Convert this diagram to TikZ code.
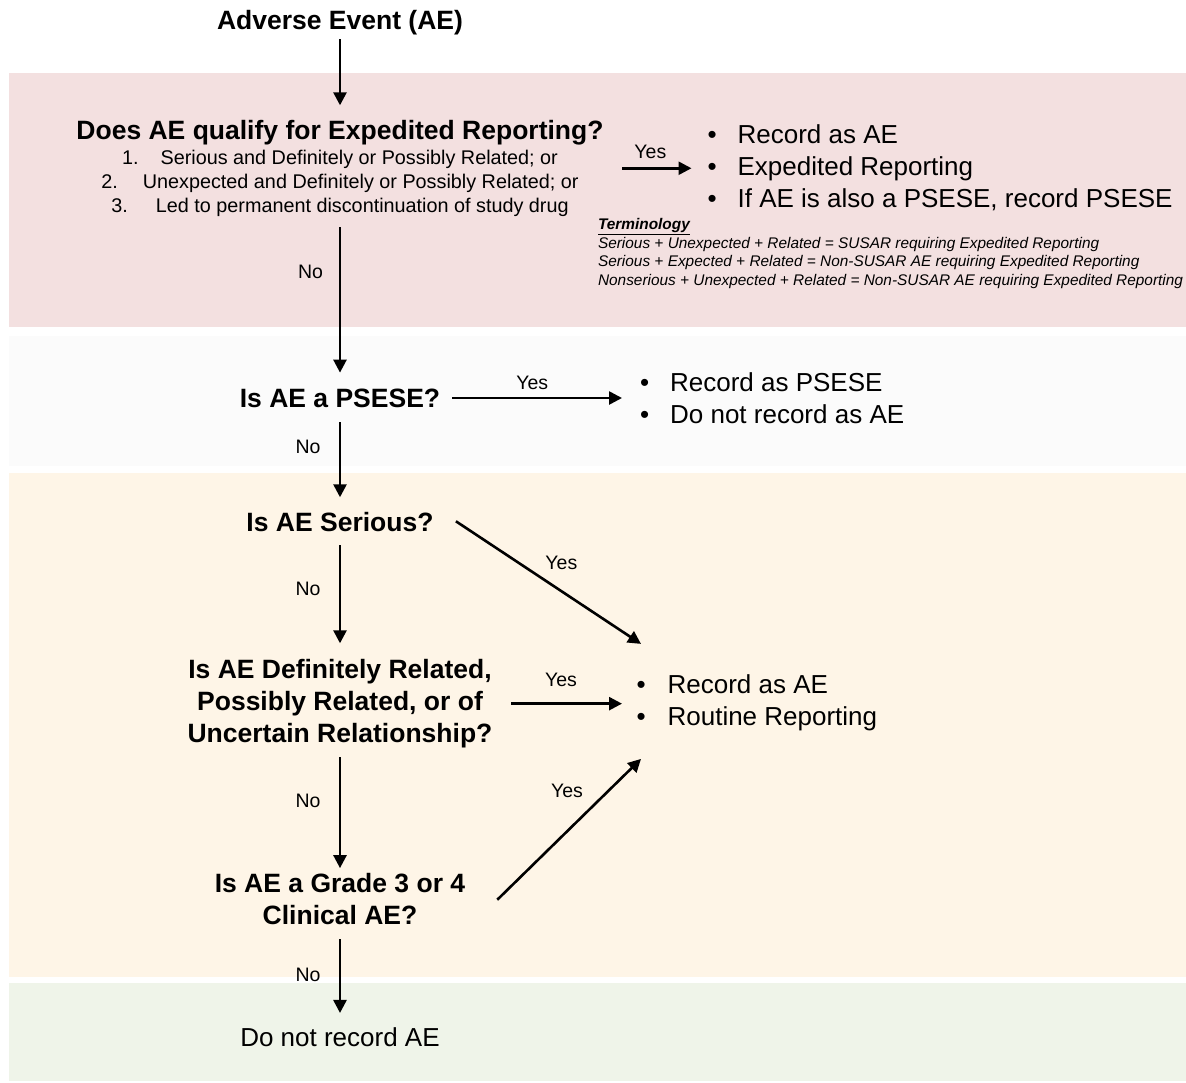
\documentclass[tikz,border=0pt]{standalone}
\usepackage{fontspec}
\setmainfont{Liberation Sans}
\usepackage{tikz}
\usetikzlibrary{arrows.meta}

\begin{document}
\begin{tikzpicture}[x=1pt,y=-1pt,line cap=rect,
		question/.style={inner sep=0, outer sep=0, align=center, font=\fontsize{26.5pt}{32pt}\selectfont\bfseries},
		bullets/.style={inner sep=0, outer sep=0, anchor=west, font=\fontsize{26pt}{32pt}\selectfont},
		answer/.style={inner sep=0, outer sep=0, font=\fontsize{19.5pt}{22pt}\selectfont},
		flow/.style={line width=2.6pt, -{Triangle[length=13pt,width=13pt]}, shorten <=15pt, shorten >=15pt}]
					\definecolor{custcol_f3_e0_e0}{RGB}{243, 224, 224}
					\definecolor{custcol_fb_fb_fb}{RGB}{251, 251, 251}
					\definecolor{custcol_fe_f5_e7}{RGB}{254, 245, 231}
					\definecolor{custcol_ef_f4_e9}{RGB}{239, 244, 233}
					\useasboundingbox (0,0) rectangle (1186,1082);
					% bands
					\fill [custcol_f3_e0_e0] (9,73) rectangle (1186,327);
					\fill [custcol_fb_fb_fb] (9,336) rectangle (1186,466);
					\fill [custcol_fe_f5_e7] (9,473) rectangle (1186,977);
					\fill [custcol_ef_f4_e9] (9,983) rectangle (1186,1081);
					% questions
					\node[question] (title) at (340,22.65) {Adverse Event (AE)};
					\node[question, font=\fontsize{19.8pt}{24pt}\selectfont] (qexp) at (340,168.25) {{\fontsize{26.5pt}{32pt}\selectfont\bfseries Does AE qualify for Expedited Reporting?}\\[0.6pt]
						1.\hspace{22pt}Serious and Definitely or Possibly Related; or\\
						2.\hspace{25pt}Unexpected and Definitely or Possibly Related; or\\
						3.\hspace{28pt}Led to permanent discontinuation of study drug};
					\node[question] (qpsese) at (340,398) {Is AE a PSESE?};
					\node[question] (qserious) at (340,522) {Is AE Serious?};
					\node[question] (qrelated) at (340,703.65) {Is AE Definitely Related,\\Possibly Related, or of\\Uncertain Relationship?};
					\node[question] (qgrade) at (340,898.85) {Is AE a Grade 3 or 4\\Clinical AE?};
					\node[inner sep=0, outer sep=0, font=\fontsize{26pt}{32pt}\selectfont] (norecord) at (340,1037) {Do not record AE};
					% outcomes
					\node[bullets] (expbul) at (707.5,168.9) {\begin{tabular}{@{}l@{\hspace{21pt}}l@{}}\textbullet & Record as AE\\ \textbullet & Expedited Reporting\\ \textbullet & If AE is also a PSESE, record PSESE\end{tabular}};
					\node[inner sep=0, outer sep=0, anchor=north west, align=left, font=\fontsize{15.4pt}{18.7pt}\selectfont\itshape] (terms) at (598,218.2) {{\bfseries\underline{Terminology}}\\
						Serious + Unexpected + Related = SUSAR requiring Expedited Reporting\\
						Serious + Expected + Related = Non-SUSAR AE requiring Expedited Reporting\\
						Nonserious + Unexpected + Related = Non-SUSAR AE requiring Expedited Reporting};
					\node[bullets] (psebul) at (640,400.9) {\begin{tabular}{@{}l@{\hspace{21pt}}l@{}}\textbullet & Record as PSESE\\ \textbullet & Do not record as AE\end{tabular}};
					\node[bullets] (routine) at (636.5,702.9) {\begin{tabular}{@{}l@{\hspace{22pt}}l@{}}\textbullet & Record as AE\\ \textbullet & Routine Reporting\end{tabular}};
					\coordinate (routinetop) at ([shift={(4.5,-27)}]routine.north west);
					\coordinate (routinebot) at ([shift={(4.5,24)}]routine.south west);
					% No arrows
					\draw [flow, shorten <=5pt] (title) -- (qexp);
					\draw [flow, shorten <=12pt, shorten >=16pt] (qexp) -- node[answer, pos=.324, left=17pt] {No} (qpsese);
					\draw [flow, shorten <=16pt] (qpsese) -- node[answer, pos=.375, left=19.5pt] {No} (qserious);
					\draw [flow, shorten >=16pt] (qserious) -- node[answer, pos=.449, left=19.5pt] {No} (qrelated);
					\draw [flow, shorten <=10pt, shorten >=5pt] (qrelated) -- node[answer, pos=.423, left=19.5pt] {No} (qgrade);
					\draw [flow, shorten <=15.5pt, shorten >=14.5pt] (qgrade) -- node[answer, pos=.491, left=19.5pt] {No} (norecord);
					% Yes arrows
					\draw [flow, shorten <=20pt, shorten >=16pt] (qexp.east) -- node[answer, pos=.45, above=10pt] {Yes} (qexp.east -| expbul.west);
					\draw [flow, shorten <=13pt, shorten >=18pt] (qpsese.east) -- node[answer, pos=.461, above=8pt] {Yes} (qpsese.east -| psebul.west);
					\draw [flow, shorten <=0pt, shorten >=0pt] ([xshift=23.5pt]qserious.east) -- node[answer, pos=.567, above=21pt] {Yes} (routinetop);
					\draw [flow, shorten <=19.5pt, shorten >=14.5pt] (qrelated.east) -- node[answer, pos=.476, above=16.5pt] {Yes} (qrelated.east -| routine.west);
					\draw [flow, shorten <=0pt, shorten >=0pt] ([xshift=33pt]qgrade.east) -- node[answer, pos=.482, above=34pt] {Yes} (routinebot);
\end{tikzpicture}
\end{document}
